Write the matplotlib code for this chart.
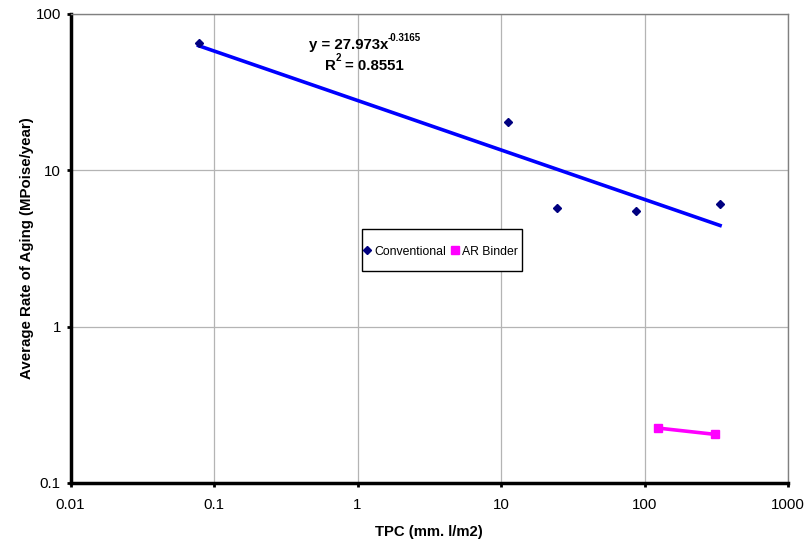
import numpy as np
import matplotlib
matplotlib.use('Agg')
from matplotlib import pyplot as plt
from matplotlib.patches import Rectangle

plt.rcParams['font.family'] = ['Liberation Sans', 'DejaVu Sans']

# conventional binder points
conv_tpc = [0.078, 11.2, 24.5, 87, 336]
conv_rate = [65.2, 20.4, 5.77, 5.5, 6.1]
# AR binder points
ar_tpc = [124, 310]
ar_rate = [0.2245, 0.2046]
# power trend line for conventional
coef_a = 27.973
coef_b = -0.3165
r2 = 0.8551

fig = plt.figure(figsize=(8.06, 5.42), dpi=100)
ax = fig.add_axes([0.0875, 0.1089, 0.8902, 0.8653])

xs = np.logspace(np.log10(conv_tpc[0]), np.log10(conv_tpc[-1]), 50)
ax.plot(xs, coef_a * xs ** coef_b, c='#0000ff', lw=2.6, zorder=3)
ax.plot(conv_tpc, conv_rate, ls='none', marker='D', ms=4.5, c='#000080',
        label='Conventional', zorder=4)
ax.plot(ar_tpc, ar_rate, c='#ff00ff', lw=2.6, marker='s', ms=6,
        label='AR Binder', zorder=4)

ax.set_xscale('log')
ax.set_yscale('log')
ax.set_xlim(0.01, 1000)
ax.set_ylim(0.1, 100)
ax.set_xticks([0.01, 0.1, 1, 10, 100, 1000])
ax.set_xticklabels(['0.01', '0.1', '1', '10', '100', '1000'])
ax.set_yticks([0.1, 1, 10, 100])
ax.set_yticklabels(['0.1', '1', '10', '100'])
ax.minorticks_off()
ax.tick_params(labelsize=10.8, length=3, width=2)
ax.tick_params(axis='x', pad=8)
ax.tick_params(axis='y', pad=4)
ax.grid(True, color='#b4b4b4', lw=0.9)
ax.set_axisbelow(True)

for side in ['left', 'bottom']:
    ax.spines[side].set_linewidth(2.5)
    ax.spines[side].set_color('black')
for side in ['top', 'right']:
    ax.spines[side].set_linewidth(1)
    ax.spines[side].set_color('#808080')

ax.set_xlabel('TPC (mm. l/m2)', fontsize=10.7, fontweight='bold', labelpad=9)
ax.set_ylabel('Average Rate of Aging (MPoise/year)', fontsize=10.8,
              fontweight='bold', labelpad=1)

# trend line equation, superscripts as separate small texts
ax.text(0.4425, 0.934, 'y = %.3fx' % coef_a, transform=ax.transAxes,
        ha='right', va='center', fontsize=10.8, fontweight='bold')
ax.text(0.4425, 0.9495, '%.4f' % coef_b, transform=ax.transAxes,
        ha='left', va='center', fontsize=7, fontweight='bold')
ax.text(0.370, 0.889, 'R', transform=ax.transAxes,
        ha='right', va='center', fontsize=10.8, fontweight='bold')
ax.text(0.370, 0.9055, '2', transform=ax.transAxes,
        ha='left', va='center', fontsize=7, fontweight='bold')
ax.text(0.3826, 0.889, '= %.4f' % r2, transform=ax.transAxes,
        ha='left', va='center', fontsize=10.8, fontweight='bold')

# legend box drawn separately, entries from the library legend
ax.add_patch(Rectangle((0.406, 0.4527), 0.223, 0.0883, transform=ax.transAxes,
                       fc='white', ec='black', lw=1, zorder=5))
leg = ax.legend(loc='center', bbox_to_anchor=(0.5155, 0.4932), ncol=2, fontsize=8.8,
                frameon=False, handlelength=0.7, handletextpad=0.25,
                columnspacing=0.3, borderpad=0, borderaxespad=0, numpoints=1)
leg.set_zorder(6)
for h in leg.legend_handles:
    h.set_linestyle('none')

fig.savefig('out.png', dpi=100)
